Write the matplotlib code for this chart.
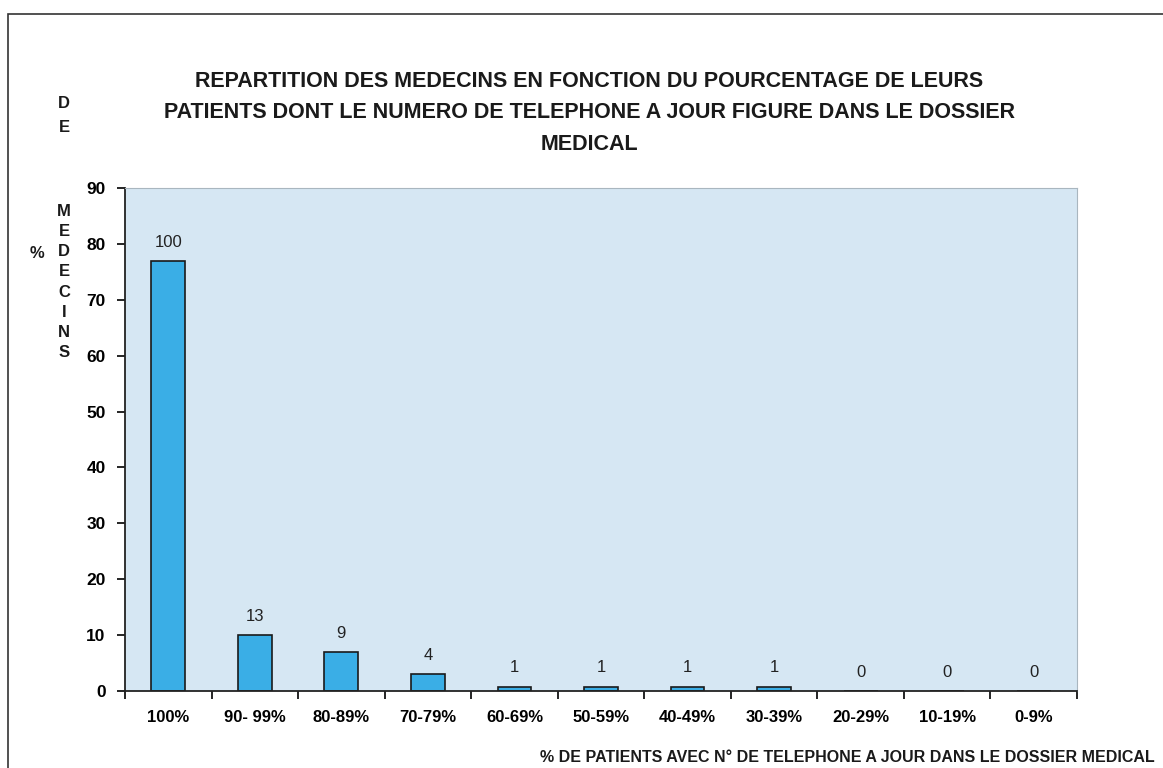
import matplotlib.pyplot as plt
from matplotlib.patches import Rectangle

plt.rcParams['font.family'] = ['Liberation Sans', 'DejaVu Sans']

categories = ['100%', '90- 99%', '80-89%', '70-79%', '60-69%', '50-59%',
              '40-49%', '30-39%', '20-29%', '10-19%', '0-9%']
pct_medecins = [76.9, 10.0, 6.9, 3.1, 0.8, 0.8, 0.8, 0.8, 0, 0, 0]
nb_medecins = [100, 13, 9, 4, 1, 1, 1, 1, 0, 0, 0]
yticks = [0, 10, 20, 30, 40, 50, 60, 70, 80, 90]

fig = plt.figure(figsize=(11.63, 7.68), dpi=100)
W, H = 1163, 768
ax = fig.add_axes([125 / W, 1 - 691 / H, (1077 - 125) / W, (691 - 188) / H])

# outer chart frame
fig.patches.append(Rectangle((8 / W, -0.05), 1.1, 1 - 14 / H + 0.05,
                             transform=fig.transFigure, fill=False,
                             edgecolor='#333333', lw=1.2))

ax.set_facecolor('#d6e7f3')
x = range(len(categories))
bars = ax.bar(x, pct_medecins, width=0.39, color='#3aaee6',
              edgecolor='#1a1a1a', lw=1.2)
for xi, v, n in zip(x, pct_medecins, nb_medecins):
    ax.annotate(str(n), (xi, v), xytext=(0, 8), textcoords='offset points',
                ha='center', va='bottom', fontsize=12, color='#222222')

ax.set_xlim(-0.5, len(categories) - 0.5)
ax.set_ylim(0, 90)
ax.set_yticks(yticks)
ax.set_xticks([i - 0.5 for i in range(len(categories) + 1)], minor=False)
ax.set_xticklabels([])
ax.set_xticks(list(x), minor=True)
ax.set_xticklabels(categories, minor=True, fontsize=12, fontweight='bold')
ax.tick_params(axis='x', which='minor', length=0, pad=14)
ax.tick_params(axis='x', which='major', length=6, direction='out', width=1.2)
ax.tick_params(axis='y', length=6, width=1.2, labelsize=12.5, pad=8)
for lab in ax.get_yticklabels():
    lab.set_fontweight('bold')

for s in ['left', 'bottom']:
    ax.spines[s].set_color('#222222')
    ax.spines[s].set_linewidth(1.3)
for s in ['top', 'right']:
    ax.spines[s].set_color('#a9b6bf')
    ax.spines[s].set_linewidth(0.8)

fig.text(589 / W, 1 - 113 / H,
         'REPARTITION DES MEDECINS EN FONCTION DU POURCENTAGE DE LEURS\n'
         'PATIENTS DONT LE NUMERO DE TELEPHONE A JOUR FIGURE DANS LE DOSSIER\n'
         'MEDICAL', ha='center', va='center', fontsize=15.5,
         fontweight='bold', color='#1a1a1a', linespacing=1.68)

fig.text(1155 / W, 1 - 757 / H,
         '% DE PATIENTS AVEC N° DE TELEPHONE A JOUR DANS LE DOSSIER MEDICAL',
         ha='right', va='center', fontsize=11.5, fontweight='bold',
         color='#1a1a1a')

fig.text(37 / W, 1 - 253 / H, '%', ha='center', va='center', fontsize=12,
         fontweight='bold', color='#1a1a1a')
fig.text(64 / W, 1 - 115 / H, 'D\nE', ha='center', va='center', fontsize=12,
         fontweight='bold', color='#1a1a1a', linespacing=1.75)
fig.text(64 / W, 1 - 282 / H, 'M\nE\nD\nE\nC\nI\nN\nS', ha='center',
         va='center', fontsize=12, fontweight='bold', color='#1a1a1a',
         linespacing=1.43)

fig.savefig('out.png', dpi=100)
